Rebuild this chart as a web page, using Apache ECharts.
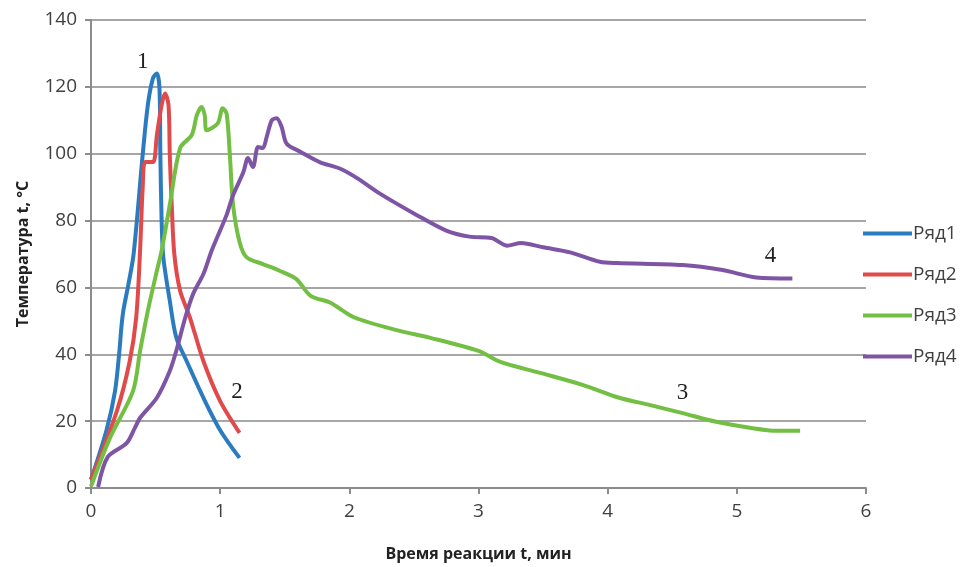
<!DOCTYPE html>
<html>
<head>
<meta charset="utf-8">
<script src="https://cdn.jsdelivr.net/npm/echarts@6/dist/echarts.min.js"></script>
<style>
html,body{margin:0;padding:0;background:#fff;}
#main{width:962px;height:567px;}
</style>
</head>
<body>
<div id="main"></div>
<script>
// Ряд1
var t1 = [0, 0.12, 0.186, 0.22, 0.235, 0.25, 0.29, 0.33, 0.40, 0.44, 0.48, 0.51, 0.53, 0.537, 0.547, 0.56, 0.61, 0.66, 0.74, 0.87, 1.0, 1.15];
var temp1 = [2.5, 17.3, 29, 41, 48, 53, 61, 70, 99.6, 114.6, 122.6, 124, 119.6, 99.6, 79.6, 69, 56, 45, 38, 27, 17.3, 9];
// Ряд2
var t2 = [0, 0.2, 0.30, 0.35, 0.38, 0.40, 0.42, 0.48, 0.51, 0.547, 0.573, 0.60, 0.61, 0.625, 0.645, 0.69, 0.766, 0.87, 1.0, 1.15];
var temp2 = [2.5, 23, 38, 51, 71, 89.7, 97.5, 97.5, 105.6, 114.6, 118, 114.6, 99.6, 84.7, 70, 59, 51, 38, 26, 16.5];
// Ряд3
var t3 = [0, 0.147, 0.325, 0.38, 0.44, 0.51, 0.547, 0.61, 0.69, 0.78, 0.82, 0.857, 0.88, 0.895, 0.98, 1.02, 1.05, 1.075, 1.10, 1.15, 1.205, 1.33, 1.46, 1.59, 1.70, 1.85, 2.04, 2.39, 2.62, 3.0, 3.17, 3.47, 3.81, 4.09, 4.33, 4.58, 4.84, 5.10, 5.31, 5.49];
var temp3 = [0.5, 15, 29, 41, 53, 65, 71, 84.7, 101.7, 105.6, 111.6, 114, 111.6, 107, 109, 113.6, 112, 99.6, 84.7, 73.6, 69, 67, 65, 62.5, 57.5, 55.5, 51, 47, 45, 41, 37.7, 34.5, 30.8, 27, 24.8, 22.4, 19.8, 18, 17.1, 17.1];
// Ряд4
var t4 = [0.055, 0.13, 0.276, 0.34, 0.38, 0.51, 0.61, 0.66, 0.73, 0.79, 0.87, 0.934, 1.05, 1.10, 1.18, 1.215, 1.254, 1.293, 1.33, 1.36, 1.40, 1.437, 1.476, 1.515, 1.62, 1.77, 1.93, 2.06, 2.24, 2.52, 2.75, 2.93, 3.10, 3.22, 3.33, 3.50, 3.71, 3.94, 4.07, 4.58, 4.89, 5.15, 5.43];
var temp4 = [0.3, 9.3, 13.4, 18, 21, 27, 35, 41, 51, 58, 64, 71, 81.7, 87.6, 94.5, 98.7, 96, 102, 101.7, 105, 110, 110.6, 108, 103, 100.6, 97.5, 95.5, 92.7, 88, 81.7, 77, 75.2, 74.8, 72.5, 73.3, 72, 70.5, 67.7, 67.3, 66.7, 65.2, 63, 62.7];

var names = ['Ряд1', 'Ряд2', 'Ряд3', 'Ряд4'];
var colors = ['#2a7bc0', '#e04a4a', '#72bf44', '#7e55a5'];
var curveLabels = ['1', '2', '3', '4'];
var labelPos = [[0.40, 127.4], [1.13, 28.7], [4.58, 28.4], [5.26, 69.4]];

function pairs(xs, ys){
    var out = [];
    for (var i = 0; i < xs.length; i++) {
        out.push([xs[i], ys[i]]);
    }
    return out;
}

var dom = document.getElementById("main");
var myChart = echarts.init(dom);
var option = null;
var allT = [t1, t2, t3, t4];
var allTemp = [temp1, temp2, temp3, temp4];
var series = [];
for (var k = 0; k < 4; k++) {
    series.push({
        name: names[k],
        type: 'line',
        data: pairs(allT[k], allTemp[k]),
        smooth: 0.3,
        showSymbol: false,
        symbol: 'none',
        lineStyle: {width: 4, color: colors[k]},
        itemStyle: {color: colors[k]},
        animation: false,
        markPoint: {
            symbol: 'circle',
            symbolSize: 0,
            data: [{coord: labelPos[k], value: curveLabels[k]}],
            label: {
                show: true,
                formatter: curveLabels[k],
                color: '#222',
                fontFamily: 'Liberation Serif',
                fontSize: 23
            }
        }
    });
}

option = {
    backgroundColor: '#fff',
    textStyle: {fontFamily: 'Open Sans'},
    grid: {
        left: 91,
        right: 96,
        top: 20,
        bottom: 79
    },
    legend: {
        orient: 'vertical',
        left: 858,
        top: 219,
        itemGap: 22,
        itemWidth: 49,
        itemHeight: 4,
        icon: 'rect',
        data: names,
        textStyle: {color: '#404040', fontSize: 19, fontFamily: 'Open Sans', padding: [0, 0, 0, -4]}
    },
    xAxis: {
        type: 'value',
        min: 0,
        max: 6,
        interval: 1,
        name: 'Время реакции t, мин',
        nameLocation: 'middle',
        nameGap: 58,
        nameTextStyle: {color: '#222', fontSize: 16, fontWeight: 'bold'},
        axisLine: {show: true, lineStyle: {color: '#8c8c8c', width: 2}},
        axisTick: {show: true, length: 6, lineStyle: {color: '#8c8c8c', width: 2}},
        axisLabel: {color: '#404040', fontSize: 19, margin: 14},
        splitLine: {show: false}
    },
    yAxis: {
        type: 'value',
        min: 0,
        max: 140,
        interval: 20,
        name: 'Температура t, °C',
        nameLocation: 'middle',
        nameGap: 60,
        nameTextStyle: {color: '#222', fontSize: 16, fontWeight: 'bold'},
        axisLine: {show: true, lineStyle: {color: '#8c8c8c', width: 2}},
        axisTick: {show: true, length: 6, lineStyle: {color: '#8c8c8c', width: 2}},
        axisLabel: {color: '#404040', fontSize: 19, margin: 14},
        splitLine: {show: true, lineStyle: {color: '#a6a6a6', width: 2}}
    },
    series: series
};

if (option && typeof option === "object") {
    myChart.setOption(option, true);
}
</script>
</body>
</html>
